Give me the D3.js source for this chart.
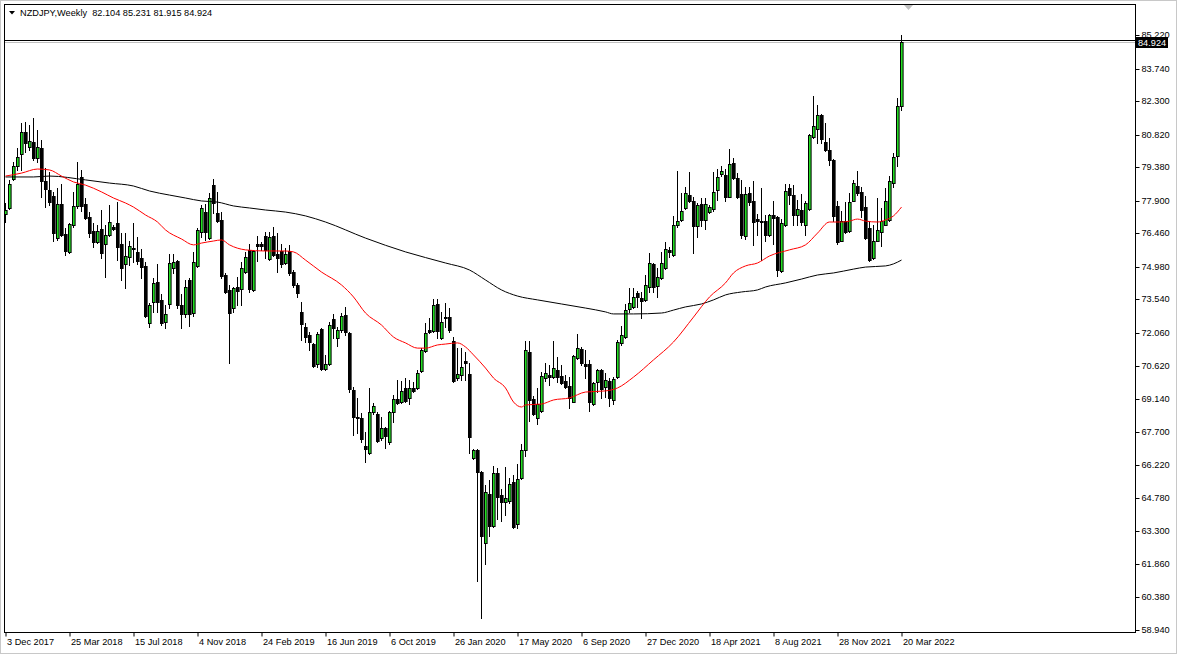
<!DOCTYPE html>
<html><head><meta charset="utf-8">
<script src="https://cdn.jsdelivr.net/npm/d3@7"></script>
<style>
html,body{margin:0;padding:0;background:#fff;overflow:hidden;}
svg{display:block;}
text{font-family:"Liberation Sans",Arial,sans-serif;font-size:9.2px;fill:#000;}
</style></head><body><svg id="c" width="1178" height="655"></svg>
<script>
const symbolTitle = "NZDJPY,Weekly  82.104 85.231 81.915 84.924";

const opens = [77.31,77.58,78.86,79.43,79.96,80.94,80.27,80.49,79.78,80.23,78.77,78.37,78.11,76.25,77.76,76.43,75.64,76.83,77.67,78.95,
77.76,77.18,76.56,76.08,76.65,75.99,76.39,76.74,76.92,75.99,75.11,75.41,75.81,75.64,75.37,75.02,72.50,73.43,74.31,73.52,
72.54,73.34,74.93,75.24,73.29,72.90,74.40,72.94,75.02,76.52,77.40,76.25,78.59,77.36,77.05,74.62,73.96,73.16,74.09,74.00,
74.75,75.73,73.96,75.99,75.99,76.34,75.33,76.34,75.55,75.68,75.15,75.68,74.75,74.18,72.99,72.32,71.97,71.57,70.69,72.23,
70.47,70.69,72.68,71.84,72.19,72.85,72.06,69.54,68.35,68.30,67.07,66.76,68.57,68.48,67.42,67.86,67.24,68.57,69.14,69.01,
69.63,69.19,69.63,69.63,70.38,71.26,72.19,72.15,73.34,71.84,72.76,72.76,71.70,70.07,70.20,70.82,70.25,66.54,66.89,65.92,
62.78,64.95,63.53,65.88,64.90,64.59,64.64,65.48,63.62,65.65,66.89,71.22,69.14,68.30,68.61,70.07,70.20,70.11,70.42,70.16,
69.94,69.72,69.01,70.96,71.35,70.69,70.69,68.92,69.89,70.42,69.67,69.94,69.10,70.11,71.62,71.88,73.12,73.21,73.83,73.60,
73.52,74.09,75.11,74.14,74.49,74.93,75.73,75.50,76.83,77.05,77.58,78.15,77.89,76.78,77.76,77.05,77.40,77.53,78.37,79.08,
79.04,78.06,79.57,78.90,78.20,76.34,78.24,77.89,77.09,77.00,77.00,76.39,77.27,77.18,74.79,76.83,78.46,78.15,77.27,77.49,
76.83,77.53,80.71,81.07,81.69,80.49,80.14,79.70,77.67,76.12,77.00,76.56,77.89,78.55,78.29,77.62,76.70,75.37,76.12,76.52,
76.83,77.05,78.68,79.87,82.104];

const highs = [77.80,78.82,79.61,80.23,81.33,81.38,81.24,81.55,81.02,80.58,79.35,79.17,78.29,78.46,78.64,76.70,76.92,78.29,79.61,79.26,
78.02,77.40,76.92,76.83,77.49,76.83,77.71,76.83,77.84,76.47,76.47,76.12,76.92,76.30,75.77,75.20,73.38,74.49,75.11,73.78,
73.29,75.55,75.55,75.28,73.78,74.40,74.49,75.64,76.70,77.71,77.76,78.24,78.86,78.29,77.40,74.71,74.18,74.10,74.53,75.20,
75.64,75.99,75.73,76.34,76.08,76.52,76.52,76.74,76.47,75.99,75.81,75.95,74.84,74.27,73.43,72.50,72.10,71.62,72.10,72.28,
71.09,72.54,72.90,72.32,72.94,73.21,72.10,69.67,69.19,68.52,67.68,69.63,68.96,68.57,68.35,67.90,68.60,69.32,69.98,69.94,
70.07,69.98,69.89,70.42,71.39,72.50,72.72,73.56,73.56,72.99,73.38,73.16,71.88,71.39,71.39,71.22,70.73,66.92,66.95,65.95,
65.34,65.56,66.18,66.09,65.17,66.14,65.65,65.79,66.27,67.15,71.70,71.70,69.27,69.63,70.33,70.73,70.64,71.70,71.00,70.64,
70.20,70.11,71.09,72.01,71.44,71.31,70.87,69.89,70.47,70.47,70.29,70.07,70.11,71.75,72.37,73.34,74.05,74.05,73.92,73.87,
74.62,75.59,75.15,74.93,75.64,76.08,75.86,77.23,79.21,78.24,78.51,79.17,78.06,77.80,78.02,78.02,77.71,79.17,79.30,79.43,
79.30,80.18,79.79,79.12,78.82,78.51,78.51,78.77,77.31,78.46,77.27,77.31,77.89,77.23,77.09,78.64,78.64,78.59,77.93,78.20,
77.89,80.85,82.53,82.13,81.75,81.33,80.67,79.75,77.89,77.45,77.84,78.24,78.82,79.21,78.51,78.11,77.00,76.83,78.02,77.58,
78.46,79.00,80.01,82.44,85.231];

const lows = [76.96,77.53,78.82,79.26,79.26,80.05,80.14,79.70,79.61,78.06,77.62,77.71,76.12,76.17,76.34,75.50,75.59,76.74,77.58,77.45,
77.10,76.30,75.86,76.03,75.37,74.53,76.34,76.61,75.28,74.40,74.05,75.07,75.20,75.11,74.49,72.76,72.32,72.99,72.99,72.41,
72.28,73.16,74.71,73.16,72.28,72.76,72.37,72.81,74.97,76.30,76.17,76.21,77.36,76.96,74.49,73.83,70.73,72.99,73.29,73.29,
74.70,73.87,73.92,75.24,75.73,75.37,75.28,75.46,74.75,74.97,75.11,74.62,74.09,73.65,71.75,71.66,71.31,70.56,70.56,70.42,
70.42,70.64,71.84,71.48,72.10,71.97,69.45,67.55,67.64,67.24,66.36,66.71,68.48,67.24,67.33,66.98,67.15,68.13,68.92,68.98,
69.01,68.92,69.45,69.58,70.33,71.22,72.06,72.10,71.84,71.79,72.32,72.10,69.89,69.98,69.98,69.98,66.76,66.49,61.10,59.47,
61.85,63.09,63.49,63.84,63.75,64.02,64.55,63.44,63.44,65.60,66.63,68.17,68.44,68.04,68.57,69.94,69.76,70.07,69.89,69.80,
69.63,68.74,69.01,70.91,70.64,70.07,68.61,68.87,69.45,69.19,69.23,68.83,68.92,70.07,71.53,71.84,72.99,73.16,73.21,72.72,
73.47,73.87,73.87,73.65,74.44,74.88,75.41,75.46,76.74,77.00,77.53,77.84,75.59,76.30,76.78,76.65,77.36,77.45,77.93,79.00,
77.89,78.06,78.86,78.02,76.25,76.21,77.71,75.95,76.39,75.28,76.12,76.34,75.99,74.58,74.75,76.78,77.76,76.83,76.83,76.83,
76.39,77.49,80.67,80.45,80.45,80.09,79.48,77.00,75.99,76.10,76.47,76.54,77.87,78.15,77.18,76.21,75.24,75.33,76.10,75.90,
76.81,77.00,78.51,79.43,81.915];

const closes = [77.49,78.64,79.43,79.83,80.94,80.45,80.54,79.78,80.27,78.77,78.42,77.84,76.47,77.76,76.39,75.68,76.87,77.67,78.64,77.67,
77.14,76.47,76.08,76.56,75.59,76.39,76.96,76.65,75.86,74.93,75.46,75.90,75.77,75.24,74.97,72.81,73.29,74.27,73.43,72.50,
72.90,75.15,75.20,73.29,72.90,74.09,72.90,75.20,76.61,77.58,76.52,78.02,77.80,77.00,74.58,73.87,72.94,74.05,73.92,74.93,
75.41,74.00,75.68,75.90,75.90,75.73,76.30,75.50,75.37,75.11,75.55,74.71,74.18,73.83,72.45,71.88,71.66,70.60,72.01,70.47,
70.69,72.41,72.28,72.19,72.81,72.10,69.58,68.35,68.30,67.37,66.93,68.57,68.83,67.29,67.86,67.51,68.57,69.14,68.96,69.50,
69.05,69.63,69.50,70.29,71.31,72.06,72.10,73.29,72.15,72.54,72.72,72.19,69.94,70.25,70.56,70.73,67.46,66.89,65.92,63.09,
65.04,63.53,65.88,64.81,64.59,64.77,65.39,63.49,65.61,66.89,71.31,69.10,68.48,68.92,70.16,70.29,70.11,70.51,70.11,69.85,
69.67,69.19,71.04,71.39,70.73,70.60,69.01,69.85,70.42,69.58,69.98,69.19,70.03,71.66,71.97,73.07,73.38,73.65,73.65,73.47,
74.18,75.15,74.09,74.53,75.15,75.77,75.64,76.83,77.00,77.45,78.24,77.89,76.78,77.71,77.05,77.76,77.62,78.29,78.95,79.21,
78.06,79.52,78.90,78.06,76.39,78.20,77.84,76.96,77.00,76.96,76.39,77.27,77.14,74.84,76.92,78.33,78.15,77.27,77.53,76.96,
77.80,80.80,81.20,81.69,80.63,80.14,79.70,77.23,76.08,77.00,76.52,77.84,78.68,78.24,77.49,76.25,75.28,76.12,76.61,77.00,
77.89,78.77,79.83,82.10,84.924];

const priceTicks = [85.220,83.740,82.300,80.820,79.380,77.900,76.460,74.980,73.540,72.060,70.620,69.140,67.700,66.220,64.780,63.300,61.860,60.380,58.940];

const dateLabels = ["3 Dec 2017","25 Mar 2018","15 Jul 2018","4 Nov 2018","24 Feb 2019","16 Jun 2019","6 Oct 2019","26 Jan 2020","17 May 2020","6 Sep 2020","27 Dec 2020","18 Apr 2021","8 Aug 2021","28 Nov 2021","20 Mar 2022"];
const dateLabelBar = [0,16,32,48,64,80,96,112,128,144,160,176,192,208,224];

const redMABar = [0,4,8,11,14,17,20,24,27,30,32,35,38,40,44,47,49,52,54,56,60,65,70,72,75,79,84,87,90,94,97,100,103,105,108,110,113,115,117,120,122,125,127,129,130,134,137,141,145,150,153,157,162,167,172,176,180,182,185,188,191,196,200,203,206,209,211,213,215,218,220,222,224];
const redMAValue = [78.99,79.12,79.30,79.26,78.99,78.73,78.59,78.29,78.02,77.80,77.62,77.27,76.96,76.61,76.21,75.95,76.03,76.12,76.17,75.95,75.73,75.68,75.68,75.64,75.28,74.75,74.18,73.65,72.94,72.41,71.88,71.62,71.39,71.39,71.53,71.57,71.62,71.44,71.09,70.51,70.07,69.63,69.01,68.79,68.88,68.92,69.10,69.19,69.45,69.50,69.63,70.11,70.87,71.66,72.76,73.65,74.27,74.71,75.02,75.15,75.46,75.73,75.95,76.47,76.96,76.96,77.00,77.09,77.00,76.96,77.05,77.23,77.62];

const blackMABar = [0,7,11,20,26,32,36,41,45,49,53,57,61,65,70,75,80,90,100,110,116,120,124,128,133,139,145,150,152,157,164,167,170,174,177,180,184,188,190,195,199,203,207,212,215,220,222,224];
const blackMAValue = [78.95,78.95,78.99,78.82,78.68,78.55,78.33,78.15,78.02,77.89,77.84,77.67,77.58,77.49,77.40,77.23,76.96,76.25,75.64,75.15,74.84,74.40,73.96,73.69,73.52,73.34,73.16,72.99,72.90,72.90,72.94,73.07,73.21,73.34,73.52,73.74,73.87,73.96,74.09,74.27,74.44,74.62,74.71,74.88,74.97,75.02,75.11,75.28];

const svg = d3.select("#c");
const W = 1178, H = 655;
const plot = {l:4, t:4, r:1135, b:632};

const x = d3.scaleLinear().domain([0, 224]).range([5.5, 901.5]);
const y = d3.scaleLinear().domain([58.94, 85.22]).range([630, 35]);

// outer frame
svg.append("rect").attr("x",0.5).attr("y",0.5).attr("width",W-2).attr("height",H-2)
  .attr("fill","#fff").attr("stroke","#c8c8c8");

svg.append("defs").append("clipPath").attr("id","clip").append("rect")
  .attr("x",plot.l+1).attr("y",plot.t+1).attr("width",plot.r-plot.l-1).attr("height",plot.b-plot.t-1);

const g = svg.append("g").attr("clip-path","url(#clip)");
const idx = d3.range(opens.length);

// bid / ask lines
const bidY = Math.round(y(closes[closes.length-1]));
g.append("line").attr("x1",plot.l).attr("x2",plot.r).attr("y1",bidY-1.5).attr("y2",bidY-1.5).attr("stroke","#000");
g.append("line").attr("x1",plot.l).attr("x2",plot.r).attr("y1",bidY+0.5).attr("y2",bidY+0.5).attr("stroke","#c0c0c0");

// wicks
g.selectAll("line.wick").data(idx).join("line").attr("class","wick")
  .attr("x1",i=>x(i)).attr("x2",i=>x(i))
  .attr("y1",i=>Math.round(y(highs[i])))
  .attr("y2",i=>Math.round(y(lows[i]))+1)
  .attr("stroke","#000").attr("stroke-width",1);

// bodies
const bodyTop = i=>Math.round(y(Math.max(opens[i],closes[i])));
const bodyBot = i=>Math.round(y(Math.min(opens[i],closes[i])));
g.selectAll("rect.body").data(idx).join("rect").attr("class","body")
  .attr("x",i=>x(i)-1).attr("width",2.6)
  .attr("y",i=>bodyTop(i)+0.5)
  .attr("height",i=>Math.max(bodyBot(i)-bodyTop(i),1))
  .attr("fill",i=>closes[i]>=opens[i]?"#22dd22":"#000")
  .attr("stroke","#000").attr("stroke-width",1);

// moving averages
const line = d3.line().x(d=>x(d[0])).y(d=>y(d[1])).curve(d3.curveMonotoneX);
g.append("path").datum(blackMABar.map((b,k)=>[b,blackMAValue[k]]))
  .attr("d",line).attr("fill","none").attr("stroke","#000").attr("stroke-width",1);
g.append("path").datum(redMABar.map((b,k)=>[b,redMAValue[k]]))
  .attr("d",line).attr("fill","none").attr("stroke","#ff0000").attr("stroke-width",1);

// plot frame
svg.append("rect").attr("x",plot.l+0.5).attr("y",plot.t+0.5)
  .attr("width",plot.r-plot.l).attr("height",plot.b-plot.t)
  .attr("fill","none").attr("stroke","#000");

// right price axis
const yAxis = d3.axisRight(y).tickValues(priceTicks).tickFormat(d3.format(".3f")).tickSize(4).tickPadding(2);
const ya = svg.append("g").attr("transform",`translate(${plot.r+0.5},0)`).call(yAxis);
ya.select(".domain").remove();
ya.selectAll("line").attr("stroke","#000");
ya.selectAll("text").attr("font-family",null).attr("font-size",null).attr("fill","#000");
ya.selectAll(".tick").attr("transform",d=>`translate(0,${Math.round(y(d))+0.5})`);

// bottom time axis
const xAxis = d3.axisBottom(x).tickValues(dateLabelBar).tickFormat((d,k)=>dateLabels[k]).tickSize(4);
const xa = svg.append("g").attr("transform",`translate(0,${plot.b+0.5})`).call(xAxis);
xa.select(".domain").remove();
xa.selectAll("line").attr("stroke","#000");
xa.selectAll("text").attr("font-family",null).attr("font-size",null).attr("fill","#000")
  .attr("text-anchor","start").attr("x",1).attr("y",12).attr("dy",0);

// current price box
const last = closes[closes.length-1];
svg.append("rect").attr("x",plot.r+1).attr("y",bidY-5).attr("width",32).attr("height",11).attr("fill","#000");
svg.append("text").attr("x",plot.r+3).attr("y",bidY+4).attr("fill","#fff").style("fill","#fff").text(d3.format(".3f")(last));

// title
svg.append("path").attr("d","M9,11 L15,11 L12,14.5 Z").attr("fill","#000");
svg.append("text").attr("x",20).attr("y",15.5).style("white-space","pre").text(symbolTitle);

// chart shift marker
svg.append("path").attr("d","M904,5 L913,5 L908.5,10 Z").attr("fill","#c0c0c0");
</script></body></html>
